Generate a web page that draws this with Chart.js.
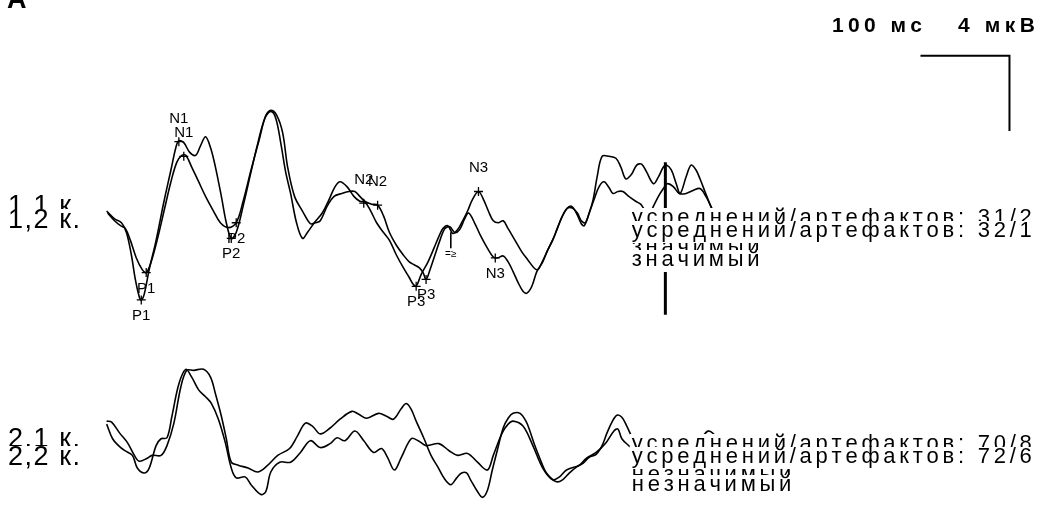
<!DOCTYPE html>
<html>
<head>
<meta charset="utf-8">
<script src="https://cdn.jsdelivr.net/npm/chart.js@4.4.1/dist/chart.umd.min.js"></script>
<style>
html, body { margin: 0; padding: 0; background: #fff; }
canvas { display: block; }
</style>
</head>
<body>
<canvas id="myChart" width="1040" height="511" style="width:1040px;height:511px"></canvas>
<script>
// channel 1, two runs (1,1 and 1,2)
var topX1 = [102,110,117,122,127,131,135,137,140,145,
	152,160,167,172,175,180,186,192,197,202,
	207,212,218,223,228,233,240,248,255,262,
	268,273,278,283,288,294,300,305,312,320,
	327,333,338,345,352,358,363,368,375,382,
	388,395,402,408,412,415,420,427,433,438,
	442,447,452,457,462,467,472,478,483,488,
	493,498,503,508,515,522,528,534,538,542,
	548,555,562,567,572,577,582,585,589,594,
	598,603,610,617,622,627,633,638,643,648,
	655,660,665,668,673,678,682,688,693,698,
	702,707,712,715];
var topY1 = [210,218,222,232,255,280,298,301,295,270,
	240,200,168,145,138,140,150,153,143,134,
	145,165,195,222,238,232,205,170,140,115,
	108,115,140,170,192,222,238,232,222,212,
	198,185,180,185,195,200,201,208,222,232,
	240,255,268,278,285,287,275,262,248,236,
	228,225,233,229,220,210,198,190,198,210,
	220,222,220,228,240,252,260,268,270,263,
	250,235,217,208,205,212,223,225,215,198,
	175,154,154,156,165,177,172,163,162,170,
	182,175,165,163,168,182,192,175,163,168,
	177,190,203,210];
var topX2 = [103,110,116,121,126,132,138,142,147,153,
	160,167,173,178,182,188,195,202,210,217,
	225,233,240,248,256,263,268,274,280,285,
	292,300,308,313,318,325,332,340,347,353,
	358,363,370,376,382,388,395,402,408,413,
	418,422,425,429,434,439,444,449,454,459,
	464,468,474,480,487,493,497,503,508,513,
	518,523,527,532,537,543,548,553,558,563,
	568,573,578,582,586,590,595,600,605,610,
	614,619,624,630,637,642,647,651,655,660,
	665,669,675,681,688,695,702,708,713,716];
var topY2 = [212,220,225,228,240,258,270,273,262,240,
	210,180,160,153,153,165,180,195,210,222,
	227,222,200,168,138,112,107,112,130,165,
	195,210,223,222,220,205,195,192,190,190,
	195,200,203,204,215,232,245,255,262,265,
	268,273,280,270,255,240,228,226,232,229,
	218,212,222,235,248,257,258,256,262,272,
	283,292,294,287,272,262,250,240,227,215,
	207,207,212,220,222,212,198,185,180,186,
	192,190,190,195,200,203,210,212,205,195,
	187,182,185,192,192,189,187,195,205,212];

// channel 2, two runs (2,1 and 2,2)
var botX1 = [102,107,115,123,130,135,143,148,157,163,
	170,177,183,190,200,207,212,218,223,228,
	235,245,255,265,275,287,295,303,310,318,
	328,338,350,357,365,377,385,392,400,405,
	410,415,423,430,437,443,450,456,461,466,
	470,477,482,487,492,497,503,508,513,520,
	526,530,535,540,545,550,557,563,570,577,
	584,590,597,603,608,613,618,623,628,634,
	645,660,680,695,705,711,718,725];
var botY1 = [425,426,437,447,460,466,463,460,460,450,
	427,390,373,373,372,380,397,420,443,467,
	470,473,477,470,460,453,440,427,430,438,
	432,423,415,418,422,417,420,423,412,407,
	413,425,443,460,472,483,490,483,478,478,
	485,497,503,496,475,455,432,422,417,417,
	425,435,450,463,475,482,487,485,478,472,
	468,462,459,450,437,426,419,421,430,443,
	462,470,465,450,440,435,441,456];
var botX2 = [102,108,114,120,128,133,140,145,152,157,
	163,168,175,182,188,195,202,208,215,222,
	228,233,242,248,258,263,268,277,288,298,
	308,318,328,335,343,353,362,372,380,386,
	393,400,410,417,425,438,448,457,467,477,
	487,493,502,508,513,523,533,543,553,560,
	567,580,587,597,607,615,619,623,630,634];
var botY2 = [428,443,450,455,460,473,478,473,450,443,
	442,420,387,372,380,393,400,407,423,447,
	473,483,482,490,500,497,477,467,467,457,
	445,452,448,442,445,435,445,457,453,462,
	475,462,443,445,450,448,455,460,458,467,
	475,460,437,428,425,430,450,473,485,482,
	475,470,463,457,447,435,433,443,450,453];

// peak markers
var peakNames = ['N1','N1','P1','P1','P2','P2','N2','N2','P3','P3','N3','N3'];
var peakX = [175,180,142,137,233,228,362,376,425,415,478,495];
var peakY = [139,154,273,301,222,238,202,204,280,287,190,258];
var peakSide = ['up','up','down','down','down','down','up','up','down','down','up','down'];

// scale bar (100 ms / 4 mkV), analysis marker, small tick
var barX = [925,1015,1015];
var barY = [51,51,128];
var markerX = [667,667];
var markerY = [160,316];
var tickX = [450,450];
var tickY = [232,248];

var chanLabels = ['1,1 к.','1,2 к.','2,1 к.','2,2 к.'];
var topNotes = ['усреднений/артефактов: 31/2','значимый','усреднений/артефактов: 32/1','значимый'];
var botNotes = ['усреднений/артефактов: 70/8','незначимый','усреднений/артефактов: 72/6','незначимый'];
var scaleLabels = ['100 мс','4 мкВ'];

function _toPoints(xs, ys) {
	var pts = new Array();
	for (var i = 0; i < xs.length; i++) {
		pts.push({x: xs[i], y: ys[i]});
	}
	return pts;
}

function _traceSet(xs, ys) {
	return {
		data: _toPoints(xs, ys),
		showLine: true,
		borderColor: '#000',
		borderWidth: 1.6,
		pointRadius: 0,
		tension: 0.35,
		fill: false
	};
}

function _lineSet(xs, ys, w) {
	return {
		data: _toPoints(xs, ys),
		showLine: true,
		borderColor: '#000',
		borderWidth: w,
		pointRadius: 0,
		tension: 0,
		fill: false
	};
}

function _spacedWidth(ctx, text, sp) {
	var w = 0;
	for (var i = 0; i < text.length; i++) {
		w += ctx.measureText(text[i]).width;
	}
	return w + sp * (text.length - 1);
}

function _spacing(ctx, text, target) {
	return (target - _spacedWidth(ctx, text, 0)) / (text.length - 1);
}

function _drawSpaced(ctx, text, x, y, sp) {
	for (var i = 0; i < text.length; i++) {
		ctx.fillText(text[i], x, y);
		x += ctx.measureText(text[i]).width + sp;
	}
}

function _noteBlock(ctx, notes, x, baselines, sp) {
	// each row gets a white box, later rows hide the lower part of earlier ones
	notes.forEach(function(t, i) {
		ctx.fillStyle = '#fff';
		ctx.fillRect(x - 2, baselines[i] - 16, 1040 - x + 2, 22);
		ctx.fillStyle = '#000';
		_drawSpaced(ctx, t, x, baselines[i], sp);
	});
}

var notesPlugin = {
	id: 'notes',
	afterDatasetsDraw: function(chart) {
		var ctx = chart.ctx;
		var sx = chart.scales.x;
		var sy = chart.scales.y;
		ctx.save();
		ctx.textBaseline = 'alphabetic';

		// peak names
		ctx.font = '15px "Liberation Sans", Arial, sans-serif';
		ctx.textAlign = 'center';
		ctx.fillStyle = '#000';
		peakNames.forEach(function(name, i) {
			var px = sx.getPixelForValue(peakX[i]);
			var py = sy.getPixelForValue(peakY[i]);
			ctx.fillText(name, px, peakSide[i] == 'up' ? py - 19 : py + 20);
		});
		ctx.font = '10px "Liberation Sans", Arial, sans-serif';
		ctx.fillText('=≥', sx.getPixelForValue(tickX[1]), sy.getPixelForValue(tickY[1]) + 9);

		ctx.textAlign = 'left';

		// right-hand notes (run 1 first, run 2 on top)
		ctx.font = '22px "Liberation Sans", Arial, sans-serif';
		var sp = _spacing(ctx, topNotes[2], 400);
		var nx = sx.getPixelForValue(633);
		_noteBlock(ctx, topNotes, nx, [224, 253, 237, 266], sp);
		_noteBlock(ctx, botNotes, nx, [450, 481, 463, 491], sp);

		// channel labels
		ctx.font = '27px "Liberation Sans", Arial, sans-serif';
		var lsp = _spacing(ctx, chanLabels[2], 72);
		var lb = [214, 228, 447, 465];
		chanLabels.forEach(function(t, i) {
			if (i % 2 == 1) {
				ctx.fillStyle = '#fff';
				ctx.fillRect(6, lb[i] - 19, 80, 24);
			}
			ctx.fillStyle = '#000';
			_drawSpaced(ctx, t, 8, lb[i], lsp);
		});

		// scale bar captions
		ctx.font = 'bold 21px "Liberation Sans", Arial, sans-serif';
		_drawSpaced(ctx, scaleLabels[0], 832, 32, _spacing(ctx, scaleLabels[0], 90));
		_drawSpaced(ctx, scaleLabels[1], 958, 32, _spacing(ctx, scaleLabels[1], 77));

		ctx.font = 'bold 27px "Liberation Sans", Arial, sans-serif';
		ctx.fillText('A', 7, 8);
		ctx.restore();
	}
};

var _datasets = [
	_traceSet(topX1, topY1),
	_traceSet(topX2, topY2),
	_traceSet(botX1, botY1),
	_traceSet(botX2, botY2),
	_lineSet(markerX, markerY, 3),
	_lineSet(barX, barY, 2),
	_lineSet(tickX, tickY, 1),
	{
		data: _toPoints(peakX, peakY),
		showLine: false,
		pointStyle: 'cross',
		pointRadius: 4.5,
		borderColor: '#000',
		borderWidth: 1.3
	}
];

var _config = {
	type: 'scatter',
	data: { datasets: _datasets },
	options: {
		responsive: false,
		animation: false,
		devicePixelRatio: 1,
		layout: { padding: 0 },
		plugins: {
			legend: { display: false },
			tooltip: { enabled: false }
		},
		scales: {
			x: { type: 'linear', min: 0, max: 1040, display: false },
			y: { type: 'linear', min: 0, max: 511, reverse: true, display: false }
		}
	},
	plugins: [notesPlugin]
};

var myChart = new Chart(document.getElementById('myChart'), _config);
</script>
</body>
</html>
